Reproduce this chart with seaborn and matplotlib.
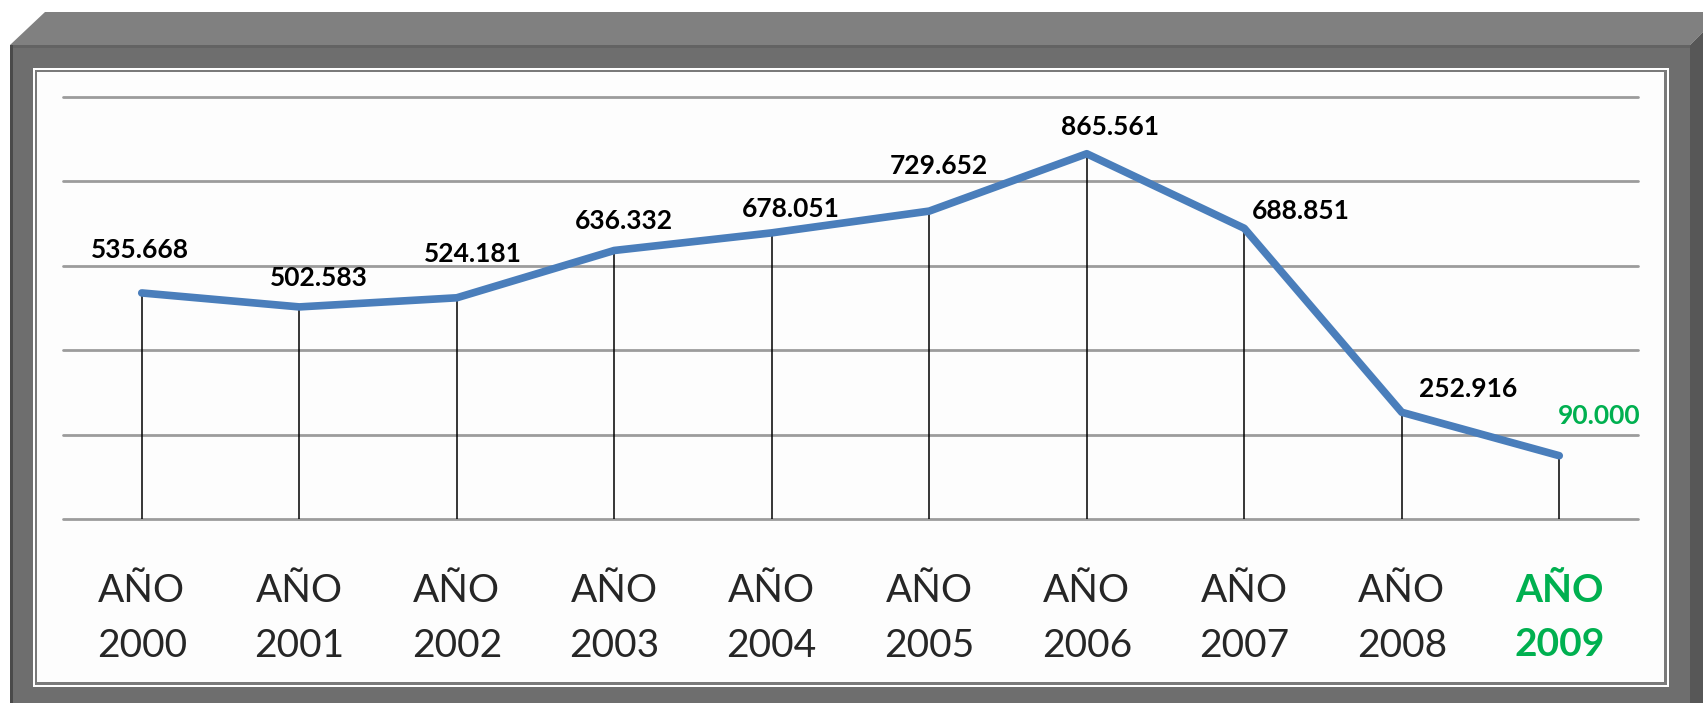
import numpy as np
import matplotlib
matplotlib.use('Agg')
import matplotlib.pyplot as plt
from matplotlib.patches import Polygon, Rectangle
import seaborn as sns

# data
years = ['2000', '2001', '2002', '2003', '2004', '2005', '2006', '2007', '2008', '2009']
values = [535668, 502583, 524181, 636332, 678051, 729652, 865561, 688851, 252916, 150000]
value_labels = ['535.668', '502.583', '524.181', '636.332', '678.051',
                '729.652', '865.561', '688.851', '252.916', '90.000']
grid_ticks = [0, 200000, 400000, 600000, 800000, 1000000]

# label offsets in pixels (dx, dy)
label_offsets = [(-2, 43), (20, 29), (16, 44), (10, 29), (19, 24),
                 (10, 45), (23, 27), (57, 17), (66, 23), (40, 40)]

W, H = 1703, 703
blue = '#4a7ebb'
green = '#00b050'

sns.set_style('white')
plt.rcParams['font.family'] = ['Lato', 'DejaVu Sans']

fig = plt.figure(figsize=(W / 100, H / 100), dpi=100)
fig.patch.set_facecolor('white')


def px(x, y):
    # pixel coords (top-left origin) -> figure fraction
    return (x / W, 1 - y / H)


def poly(pts, color):
    fig.patches.append(Polygon([px(*p) for p in pts], closed=True, facecolor=color,
                               edgecolor='none', transform=fig.transFigure, zorder=-1))


def rect(x0, y0, x1, y1, color):
    a = px(x0, y1)
    fig.patches.append(Rectangle(a, (x1 - x0) / W, (y1 - y0) / H, facecolor=color,
                                 edgecolor='none', transform=fig.transFigure, zorder=-1))


# 3d frame
poly([(10, 45), (45, 12), (1710, 12), (1710, 25), (1690, 45)], '#808080')
poly([(1690, 45), (1710, 25), (1710, 710), (1690, 710)], '#575757')
rect(10, 45, 1690, 710, '#6e6e6e')
rect(10, 45, 1690, 48, '#636363')
rect(10, 45, 13, 710, '#4a4a4a')
# inner panel with double border
rect(33, 68, 1669, 687, 'white')
rect(35, 70, 1667, 685, '#7a7a7a')
rect(37, 72, 1664, 682, '#fdfdfd')

ax = fig.add_axes([63 / W, (H - 519) / H, 1575 / W, 422 / H])
ax.set_zorder(1)
ax.set_facecolor('none')

xpos = np.arange(len(years))
ax.vlines(xpos, 0, values, color='black', lw=1.1, zorder=2)
sns.lineplot(x=xpos, y=values, ax=ax, color=blue, lw=5.5, zorder=3,
             solid_capstyle='round', solid_joinstyle='round')

for i, (v, lab) in enumerate(zip(values, value_labels)):
    dx, dy = label_offsets[i]
    col = green if i == len(values) - 1 else 'black'
    ax.annotate(lab, (xpos[i], v), xytext=(dx, dy), textcoords='offset pixels',
                ha='center', va='center', fontsize=19, fontweight='bold', color=col)

ax.set_xlim(-0.5, len(years) - 0.5)
ax.set_ylim(0, 1000000)
ax.set_yticks(grid_ticks)
ax.set_yticklabels([])
ax.grid(axis='y', color='#9c9c9c', lw=2.0)
ax.grid(axis='x', visible=False)
for line in ax.get_ygridlines():
    line.set_clip_on(False)
for s in ax.spines.values():
    s.set_visible(False)

ax.set_xticks(xpos)
ax.set_xticklabels(['AÑO\n' + y for y in years], fontsize=28, linespacing=1.64)
ax.tick_params(axis='x', length=0, pad=39)
ax.tick_params(axis='y', length=0)
last = ax.get_xticklabels()[-1]
last.set_color(green)
last.set_fontweight('bold')

fig.savefig('out.png', dpi=100, facecolor='white')
